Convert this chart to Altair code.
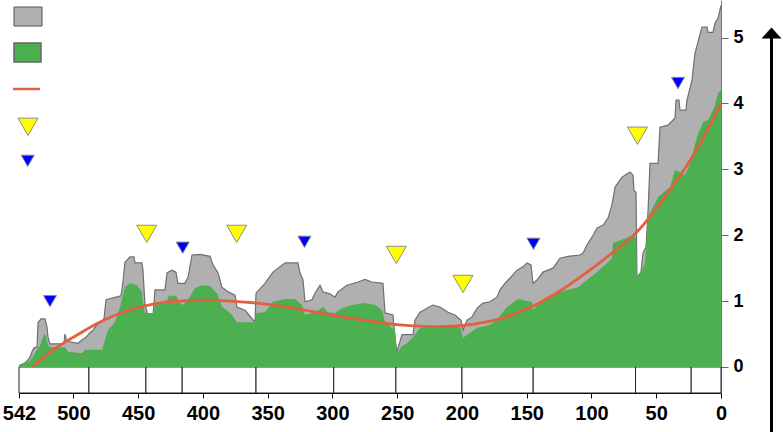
import altair as alt
import pandas as pd

# ---- data (age in Ma, diversity in thousands of genera) ----
all_ma = [542, 538.1, 535.8, 533.5, 532.0, 530.4, 528.1, 527.3, 525.0, 521.9, 520.4, 519.6, 518.1,
          507.3, 506.5, 505.0, 496.5, 493.4, 490.3, 487.2, 484.9, 481.8, 478.7, 476.4, 474.8, 469.4,
          463.3, 461.7, 460.2, 456.3, 453.2, 452.5, 447.1, 446.3, 444.7, 442.4, 438.5, 437.0, 429.3,
          427.7, 423.9, 420.8, 419.3, 413.9, 411.5, 408.4, 402.3, 394.5, 392.2, 388.4, 385.3, 380.6,
          375.2, 373.7, 367.5, 363.7, 359.8, 359.0, 352.1, 345.9, 336.6, 326.6, 325.1, 322.7, 321.2,
          315.8, 313.5, 309.6, 307.3, 301.9, 298.0, 295.7, 288.8, 280.3, 274.9, 269.5, 261.0, 259.4,
          253.3, 251.7, 250.2, 246.3, 237.8, 236.3, 232.4, 227.0, 222.4, 217.0, 210.8, 205.4, 200.7,
          199.2, 196.1, 192.2, 188.4, 183.8, 178.4, 173.0, 170.6, 166.8, 162.9, 157.5, 152.9, 149.8,
          146.7, 145.2, 142.1, 137.4, 129.7, 124.3, 118.1, 108.9, 106.5, 103.5, 99.6, 95.7, 91.1,
          87.2, 84.2, 81.8, 76.4, 70.3, 67.9, 67.2, 65.6, 64.9, 61.8, 60.2, 57.9, 56.4, 54.8, 48.6,
          47.1, 40.9, 35.5, 34.7, 32.4, 31.7, 27.0, 26.3, 22.4, 20.1, 14.7, 10.8, 10.0, 6.2, 4.6,
          2.3, 0]
all_k = [0.02, 0.05, 0.09, 0.15, 0.23, 0.29, 0.30, 0.67, 0.73, 0.73, 0.61, 0.45, 0.35,
         0.35, 0.50, 0.39, 0.36, 0.41, 0.45, 0.52, 0.56, 0.64, 0.68, 0.73, 1.02, 1.05,
         1.08, 1.29, 1.59, 1.67, 1.67, 1.58, 1.58, 1.47, 0.94, 0.79, 0.79, 1.17, 1.17,
         1.43, 1.47, 1.44, 1.27, 1.27, 1.36, 1.70, 1.71, 1.68, 1.55, 1.43, 1.21, 1.14,
         1.09, 0.91, 0.86, 0.77, 0.68, 1.12, 1.27, 1.44, 1.58, 1.58, 1.43, 1.32, 0.99,
         1.02, 1.12, 1.24, 1.14, 1.11, 1.06, 1.14, 1.24, 1.29, 1.33, 1.29, 1.27, 0.82,
         0.79, 0.44, 0.23, 0.49, 0.49, 0.71, 0.83, 0.89, 0.94, 0.91, 0.83, 0.79, 0.71,
         0.56, 0.71, 0.76, 0.89, 0.97, 0.99, 1.06, 1.17, 1.27, 1.35, 1.47, 1.52, 1.58,
         1.55, 1.27, 1.32, 1.44, 1.50, 1.65, 1.68, 1.70, 1.73, 1.85, 1.97, 2.11, 2.15,
         2.26, 2.46, 2.73, 2.88, 2.96, 2.91, 2.68, 2.65, 1.36, 1.44, 1.73, 1.82, 2.34, 3.09, 3.09,
         3.64, 3.67, 3.78, 4.05, 4.05, 3.90, 3.90, 4.05, 4.35, 4.76, 5.16, 5.16, 5.08, 5.08, 5.22,
         5.29, 5.49]

well_ma = [542, 533.5, 530.4, 528.1, 525.8, 524.3, 522.7, 521.2, 519.6, 518.1, 506.5, 504.2, 493.4,
           491.1, 477.9, 475.6, 473.3, 467.9, 464.0, 460.2, 456.3, 450.9, 447.1, 446.3, 444.7, 438.5,
           437.0, 428.5, 426.2, 420.8, 417.7, 415.4, 411.5, 406.1, 400.7, 394.5, 392.2, 389.1, 385.3,
           381.4, 377.6, 373.7, 359.8, 359.0, 352.1, 345.9, 336.6, 328.9, 323.5, 321.2, 315.8, 311.1,
           307.3, 303.4, 298.0, 292.6, 284.9, 274.9, 267.1, 261.7, 259.4, 254.0, 251.7, 250.2, 246.3,
           242.4, 237.8, 232.4, 227.0, 201.5, 199.2, 196.1, 188.4, 178.4, 173.0, 169.1, 165.2, 156.7,
           149.8, 145.9, 145.2, 139.7, 124.3, 110.4, 103.5, 95.7, 87.2, 84.2, 83.4, 67.9, 65.6, 64.9,
           61.0, 58.7, 56.4, 48.6, 39.4, 35.5, 31.7, 27.8, 23.9, 18.5, 13.9, 10.0, 4.6, 2.3, 0]
well_k = [0.02, 0.09, 0.18, 0.26, 0.32, 0.41, 0.49, 0.49, 0.33, 0.30, 0.30, 0.23, 0.21,
          0.26, 0.26, 0.41, 0.56, 0.68, 0.91, 1.21, 1.27, 1.24, 1.14, 0.97, 0.82, 0.82,
          0.94, 0.97, 1.08, 1.08, 0.97, 0.94, 1.02, 1.20, 1.24, 1.23, 1.18, 1.12, 0.91,
          0.86, 0.79, 0.68, 0.68, 0.82, 0.83, 0.99, 1.03, 1.03, 0.94, 0.79, 0.82, 0.86,
          0.91, 0.83, 0.82, 0.89, 0.94, 0.97, 0.94, 0.86, 0.68, 0.59, 0.56, 0.21, 0.32,
          0.36, 0.45, 0.59, 0.61, 0.61, 0.44, 0.49, 0.59, 0.64, 0.71, 0.82, 0.91, 1.03,
          1.00, 0.99, 0.86, 0.99, 1.14, 1.21, 1.32, 1.44, 1.59, 1.65, 1.88, 2.00, 1.96, 1.36,
          1.47, 1.58, 2.27, 2.58, 2.73, 2.99, 2.96, 2.91, 3.09, 3.49, 3.72, 3.75, 3.97, 4.16, 4.20]

trend_ma = [531.2, 519.6, 506.5, 493.4, 481.0, 467.9, 454.8, 442.4, 429.3, 416.2, 398.4, 380.6,
            354.4, 328.9, 303.4, 277.2, 251.7, 230.1, 203.8, 178.4, 155.2, 129.7, 103.5, 78.0,
            64.9, 52.5, 31.7, 16.2, 0]
trend_k = [0.00, 0.21, 0.38, 0.53, 0.67, 0.79, 0.88, 0.94, 0.99, 1.00, 1.02, 1.00,
           0.97, 0.89, 0.80, 0.71, 0.64, 0.61, 0.61, 0.68, 0.82, 1.07, 1.43, 1.82,
           2.03, 2.34, 2.88, 3.37, 4.00]

big5_ma = [443.4, 373.9, 250.7, 199.2, 64.5]
big5_k = [2.02, 2.02, 1.70, 1.26, 3.51]
minor_ma = [518.1, 415.6, 321.6, 144.8, 33.2]
minor_k = [1.00, 1.81, 1.90, 1.87, 4.31]

period_bounds = [542, 488, 444, 416, 359, 299, 251, 200, 145, 66, 23, 0]
x_ticks = [542, 500, 450, 400, 350, 300, 250, 200, 150, 100, 50, 0]
y_ticks = [0, 1, 2, 3, 4, 5]
box_bottom = -0.395

# ---- tables ----
all_df = pd.DataFrame({"ma": all_ma, "k": all_k, "base": 0.0})
well_df = pd.DataFrame({"ma": well_ma, "k": well_k, "base": 0.0})
trend_df = pd.DataFrame({"ma": trend_ma, "k": trend_k})
big5_df = pd.DataFrame({"ma": big5_ma, "k": big5_k})
minor_df = pd.DataFrame({"ma": minor_ma, "k": minor_k})
period_df = pd.DataFrame({"ma": period_bounds[:-1], "ma2": period_bounds[1:],
                          "k": 0.0, "k2": box_bottom})
one = pd.DataFrame({"a": [0]})

GRAY = "#b0b0b0"
GREEN = "#4caf50"
RED = "#e0603f"
FONT = "Liberation Sans"

xscale = alt.Scale(domain=[542, 0], nice=False, zero=False)
yscale = alt.Scale(domain=[box_bottom, 5.57], nice=False, zero=False)
xaxis = alt.Axis(values=x_ticks, title=None, grid=False, domainColor="black", tickColor="black",
                 tickSize=5, labelFontSize=20, labelFontWeight="bold", labelFont=FONT,
                 labelColor="black", labelPadding=5, labelFlush=False, labelOverlap=False)
yaxis = alt.Axis(values=y_ticks, orient="right", title=None, grid=False, domainColor="#777",
                 tickColor="#666", tickSize=7, labelFontSize=18, labelFontWeight="bold",
                 labelFont=FONT, labelColor="black", labelPadding=5, labelFlush=False,
                 labelOverlap=False)

X = alt.X("ma:Q", scale=xscale, axis=xaxis)
Y = alt.Y("k:Q", scale=yscale, axis=yaxis)

periods = alt.Chart(period_df).mark_rect(fill="white", stroke="#222", strokeWidth=1).encode(
    x=X, x2="ma2:Q", y=Y, y2="k2:Q")

gray = alt.Chart(all_df).mark_area(
    color=GRAY, opacity=1, line={"color": "#6f6f6f", "strokeWidth": 1.2}).encode(
    x=X, y=Y, y2="base:Q")

green = alt.Chart(well_df).mark_area(color=GREEN, opacity=1).encode(x=X, y=Y, y2="base:Q")

trend = alt.Chart(trend_df).mark_line(color=RED, strokeWidth=2.8, interpolate="basis").encode(
    x=X, y=Y)

big5 = alt.Chart(big5_df).mark_point(shape="triangle-down", filled=True, fill="#ffff00",
                                     stroke="#8c8c8c", strokeWidth=1, size=400, opacity=1).encode(
    x=X, y=Y)
minor = alt.Chart(minor_df).mark_point(shape="triangle-down", filled=True, fill="#0000ff",
                                       stroke="#8c8c8c", strokeWidth=1, size=170, opacity=1).encode(
    x=X, y=Y)

# ---- legend symbols (no text in the original) ----
leg_gray = alt.Chart(one).mark_rect(fill=GRAY, stroke="#555", strokeWidth=1).encode(
    x=alt.value(-5), x2=alt.value(23), y=alt.value(7), y2=alt.value(26))
leg_green = alt.Chart(one).mark_rect(fill=GREEN, stroke="#666", strokeWidth=1.5).encode(
    x=alt.value(-5), x2=alt.value(22), y=alt.value(43), y2=alt.value(62))
leg_line = alt.Chart(one).mark_rule(color=RED, strokeWidth=2.5).encode(
    x=alt.value(-6), x2=alt.value(21), y=alt.value(89))
leg_big = alt.Chart(one).mark_point(shape="triangle-down", filled=True, fill="#ffff00",
                                    stroke="#8c8c8c", strokeWidth=1, size=400, opacity=1).encode(
    x=alt.value(9), y=alt.value(126.8))
leg_minor = alt.Chart(one).mark_point(shape="triangle-down", filled=True, fill="#0000ff",
                                      stroke="#8c8c8c", strokeWidth=1, size=170, opacity=1).encode(
    x=alt.value(8.7), y=alt.value(160.8))

# ---- time arrow on the right ----
arrow_line = alt.Chart(one).mark_rule(color="black", strokeWidth=3).encode(
    x=alt.value(752.5), y=alt.value(36), y2=alt.value(432))
arrow_head = alt.Chart(one).mark_point(shape="M0,-0.55L1,0.55L-1,0.55Z", filled=True,
                                       fill="black", stroke="black", strokeWidth=0.5,
                                       size=361, opacity=1).encode(
    x=alt.value(752.5), y=alt.value(33))

chart = alt.layer(periods, gray, green, trend, big5, minor,
                  leg_gray, leg_green, leg_line, leg_big, leg_minor,
                  arrow_line, arrow_head).properties(
    width=702, height=393, autosize="none",
    padding={"left": 19, "top": 0, "right": 62, "bottom": 39},
    background="white",
).configure_view(strokeWidth=0)

chart.save("out.html", embed_options={"renderer": "svg", "actions": False})
